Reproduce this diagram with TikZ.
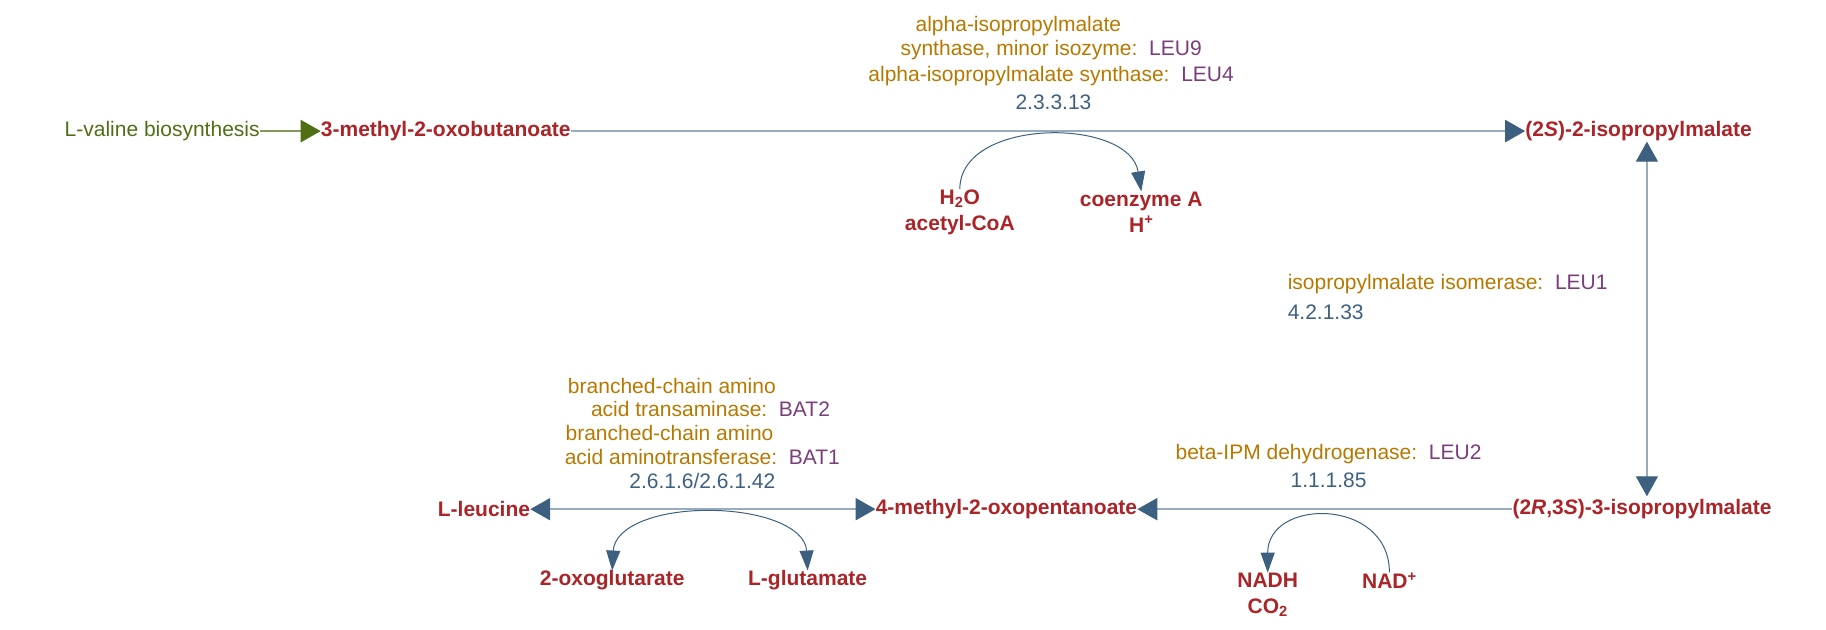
\documentclass[tikz,border=0pt]{standalone}
\usepackage{fontspec}
\setmainfont{Liberation Sans}
\usetikzlibrary{arrows.meta}
\definecolor{metred}{RGB}{170,36,40}
\definecolor{enzbrown}{RGB}{184,120,0}
\definecolor{genepurple}{RGB}{122,62,122}
\definecolor{ecblue}{RGB}{62,96,128}
\definecolor{linegray}{RGB}{152,172,192}
\definecolor{pathgreen}{RGB}{80,110,20}
\tikzset{
  met/.style={text=metred, font=\fontsize{21}{26}\selectfont\bfseries, inner sep=0pt, align=center},
  enz/.style={text=enzbrown, font=\fontsize{21}{26}\selectfont, inner sep=0pt},
  ec/.style={text=ecblue, font=\fontsize{21}{26}\selectfont, inner sep=0pt},
  rxn/.style={draw=linegray, line width=2.4pt},
  bigtip/.tip={Triangle[length=20pt,width=22pt,color=ecblue]},
  tip/.style={-{bigtip}},
  side/.style={draw=ecblue, line width=1pt},
  smalltip/.style={-{Triangle[length=20pt,width=14pt]}}
}
\newcommand{\gene}[1]{\textcolor{genepurple}{#1}}
\begin{document}
\begin{tikzpicture}[x=1.1705pt,y=-1.1705pt]
  \useasboundingbox (0,0) rectangle (1560,538);
  % metabolites
  \node[text=pathgreen, font=\fontsize{21}{26}\selectfont, inner sep=0pt, anchor=east] (val) at (222,112) {L-valine biosynthesis};
  \node[met, anchor=west] (mob) at (274,112) {3-methyl-2-oxobutanoate};
  \node[met, anchor=west] (ipm2s) at (1303,112) {(2\textit{S})-2-isopropylmalate};
  \node[met, anchor=west] (ipm3s) at (1292,435) {(2\textit{R},3\textit{S})-3-isopropylmalate};
  \node[met, anchor=west] (mop) at (748,435) {4-methyl-2-oxopentanoate};
  \node[met, anchor=east] (leu) at (453,435) {L-leucine};
  \node[met] (h2o) at (820,181) {H\textsubscript{2}O\\acetyl-CoA};
  \node[met] (coa) at (975,181) {coenzyme A\\H\textsuperscript{+}};
  \node[met] (oxg) at (523,496) {2-oxoglutarate};
  \node[met] (glu) at (690,496) {L-glutamate};
  \node[met] (nadh) at (1083,508) {NADH\\CO\textsubscript{2}};
  \node[met] (nad) at (1187,496) {NAD\textsuperscript{+}};
  % enzymes
  \node[enz] (e1a) at (870,22) {alpha-isopropylmalate};
  \node[enz] (e1b) at (898,43) {synthase, minor isozyme:\ \ \gene{LEU9}};
  \node[enz] (e1c) at (898,65) {alpha-isopropylmalate synthase:\ \ \gene{LEU4}};
  \node[ec] (ec1) at (900,87) {2.3.3.13};
  \node[enz, anchor=west] (e2) at (1100,243) {isopropylmalate isomerase:\ \ \gene{LEU1}};
  \node[ec, anchor=west] (ec2) at (1100,267) {4.2.1.33};
  \node[enz] (e3) at (1135,388) {beta-IPM dehydrogenase:\ \ \gene{LEU2}};
  \node[ec] (ec3) at (1135,410) {1.1.1.85};
  \node[enz] (e4a) at (574,330) {branched-chain amino};
  \node[enz] (e4b) at (607,349) {acid transaminase:\ \ \gene{BAT2}};
  \node[enz] (e4c) at (572,370) {branched-chain amino};
  \node[enz] (e4d) at (600,390) {acid aminotransferase:\ \ \gene{BAT1}};
  \node[ec] (ec4) at (600,411) {2.6.1.6/2.6.1.42};
  % reactions
  \draw[draw=pathgreen!70, line width=2.4pt, -{Triangle[length=20pt,width=22pt,color=pathgreen]}] (val) -- (mob);
  \draw[rxn, tip] (mob) -- (ipm2s);
  \coordinate (v1) at (1407,121);
  \coordinate (v2) at (1407,424);
  \draw[draw=linegray, line width=1.2pt, {bigtip}-{bigtip}] (v1) -- (v2);
  \draw[rxn, tip] (ipm3s) -- (mop);
  \draw[rxn, {bigtip}-{bigtip}] (leu) -- (mop);
  % side compounds
  \draw[side, smalltip] (h2o.north) .. controls (820,100) and (965,100) .. (coa.north);
  \draw[side, smalltip] (nad.north) .. controls (1187,425) and (1083,425) .. (nadh.north);
  \coordinate (br) at (605,436);
  \draw[side, smalltip] (br) .. controls (560,436) and (525,450) .. (oxg.north);
  \draw[side, smalltip] (br) .. controls (650,436) and (688,450) .. (glu.north);
\end{tikzpicture}
\end{document}
